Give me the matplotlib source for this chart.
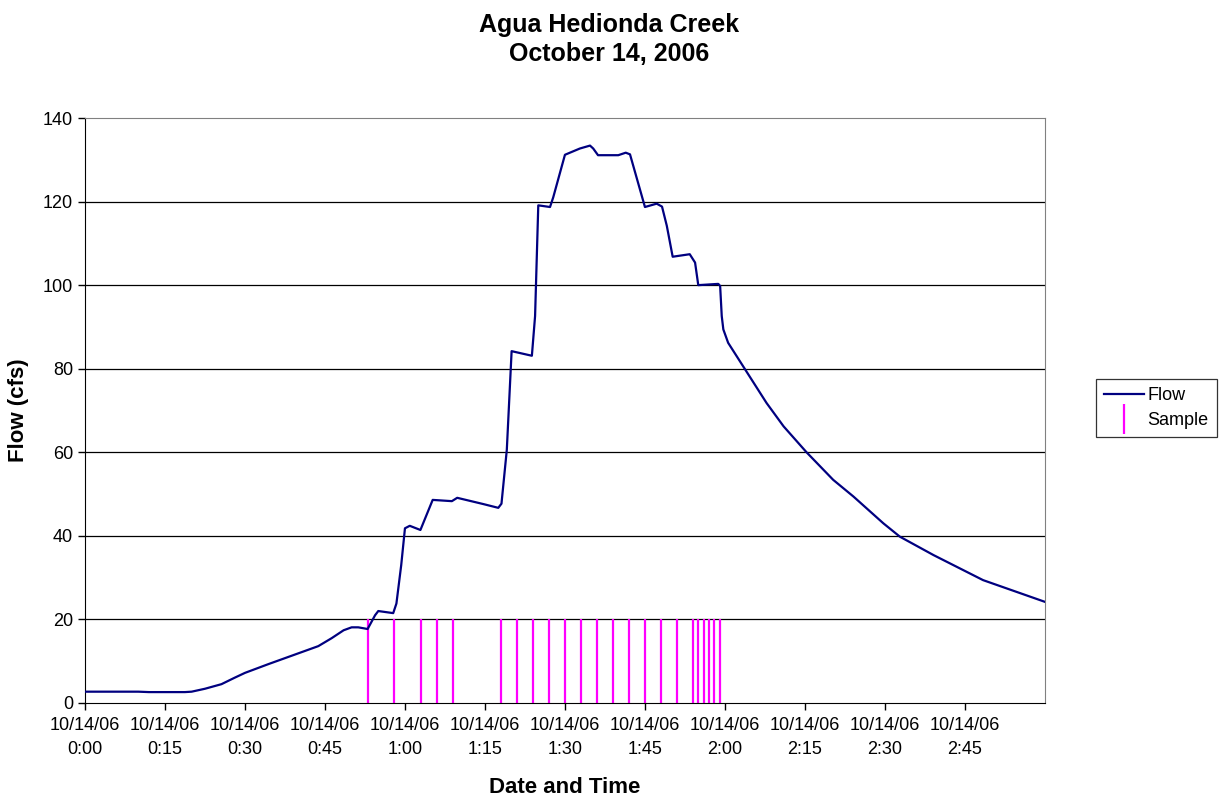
import matplotlib.pyplot as plt
from matplotlib.lines import Line2D

plt.rcParams['font.family'] = ['Liberation Sans', 'DejaVu Sans']

# minutes after 10/14/06 0:00 and flow in cfs
flow_min = [0, 5, 10, 12, 15, 18.75, 20, 22.5, 25.6, 28, 30, 34.4, 38.75, 43.75,
            46.25, 48.5, 50, 51.25, 53, 54.4, 55, 57.8, 58.4, 59.3, 60, 60.9,
            62.9, 65.2, 68.8, 69.8, 74.7, 77.5, 78.1, 79.1, 80, 83.8, 84.4, 85,
            87.2, 87.8, 90, 92.8, 94.7, 95.3, 96.2, 100, 101.4, 102.2, 105,
            107.2, 108.2, 109.1, 110.2, 113.4, 114.4, 115, 118.75, 119.1, 119.4,
            119.7, 120.6, 123.4, 127.8, 131, 135.3, 140.3, 144.1, 149.7, 152.8,
            159.1, 168.4, 180]
flow_cfs = [2.7, 2.7, 2.7, 2.6, 2.6, 2.6, 2.7, 3.4, 4.5, 6.0, 7.2, 9.3, 11.3, 13.6,
            15.5, 17.4, 18.1, 18.1, 17.7, 21.0, 22.0, 21.5, 23.8, 33, 41.8, 42.4,
            41.4, 48.6, 48.3, 49.1, 47.6, 46.7, 47.7, 60.6, 84.2, 83.1, 92.6, 119.1,
            118.7, 121, 131.2, 132.7, 133.4, 132.7, 131.1, 131.1, 131.7, 131.3, 118.7,
            119.5, 118.8, 114.2, 106.8, 107.4, 105.4, 100, 100.3, 99.8, 92.6,
            89.4, 86.2, 80.6, 71.8, 66.2, 60, 53.4, 49.4, 43, 39.8,
            35.4, 29.4, 24.2]

sample_min = [53, 58, 63, 66, 69, 78, 81, 84, 87, 90, 93, 96, 99, 102, 105, 108,
              111, 114, 115, 116, 117, 118, 119]
sample_height = 20

tick_min = [0, 15, 30, 45, 60, 75, 90, 105, 120, 135, 150, 165]
tick_labels = ['10/14/06\n0:00', '10/14/06\n0:15', '10/14/06\n0:30', '10/14/06\n0:45',
               '10/14/06\n1:00', '10/14/06\n1:15', '10/14/06\n1:30', '10/14/06\n1:45',
               '10/14/06\n2:00', '10/14/06\n2:15', '10/14/06\n2:30', '10/14/06\n2:45']

fig = plt.figure(figsize=(12.19, 7.99), dpi=100)
ax = fig.add_axes([0.0697, 0.1202, 0.7875, 0.7321])

for y in range(20, 140, 20):
    ax.axhline(y, color='black', lw=0.9, zorder=1)

ax.vlines(sample_min, 0, sample_height, colors='#FF00FF', lw=1.6, zorder=2)
ax.plot(flow_min, flow_cfs, color='#000080', lw=1.6, zorder=3)

ax.set_xlim(0, 180)
ax.set_ylim(0, 140)
ax.set_xticks(tick_min)
ax.set_xticklabels(tick_labels, fontsize=13, linespacing=1.55)
ax.set_yticks(range(0, 141, 20))
ax.tick_params(axis='y', labelsize=13, direction='out', length=5, width=1)
ax.tick_params(axis='x', direction='out', length=5, width=1, pad=5)

for s in ['top', 'right']:
    ax.spines[s].set_color('#808080')
for s in ['left', 'bottom']:
    ax.spines[s].set_color('black')

ax.set_xlabel('Date and Time', fontsize=16, fontweight='bold', labelpad=14)
ax.set_ylabel('Flow (cfs)', fontsize=16, fontweight='bold', labelpad=10)

fig.text(0.5, 0.984, 'Agua Hedionda Creek\nOctober 14, 2006', ha='center', va='top',
         fontsize=18, fontweight='bold', linespacing=1.3)

handles = [Line2D([], [], color='#000080', lw=1.6),
           Line2D([], [], color='#FF00FF', marker='|', linestyle='none',
                  markersize=22, markeredgewidth=1.6)]
leg = fig.legend(handles, ['Flow', 'Sample'], loc='center left',
                 bbox_to_anchor=(0.899, 0.489), fontsize=13, frameon=True,
                 fancybox=False, edgecolor='black', handlelength=2.2,
                 handletextpad=0.2, borderpad=0.45, labelspacing=0.45,
                 borderaxespad=0)
leg.get_frame().set_linewidth(0.9)

fig.savefig('out.png', dpi=100)
